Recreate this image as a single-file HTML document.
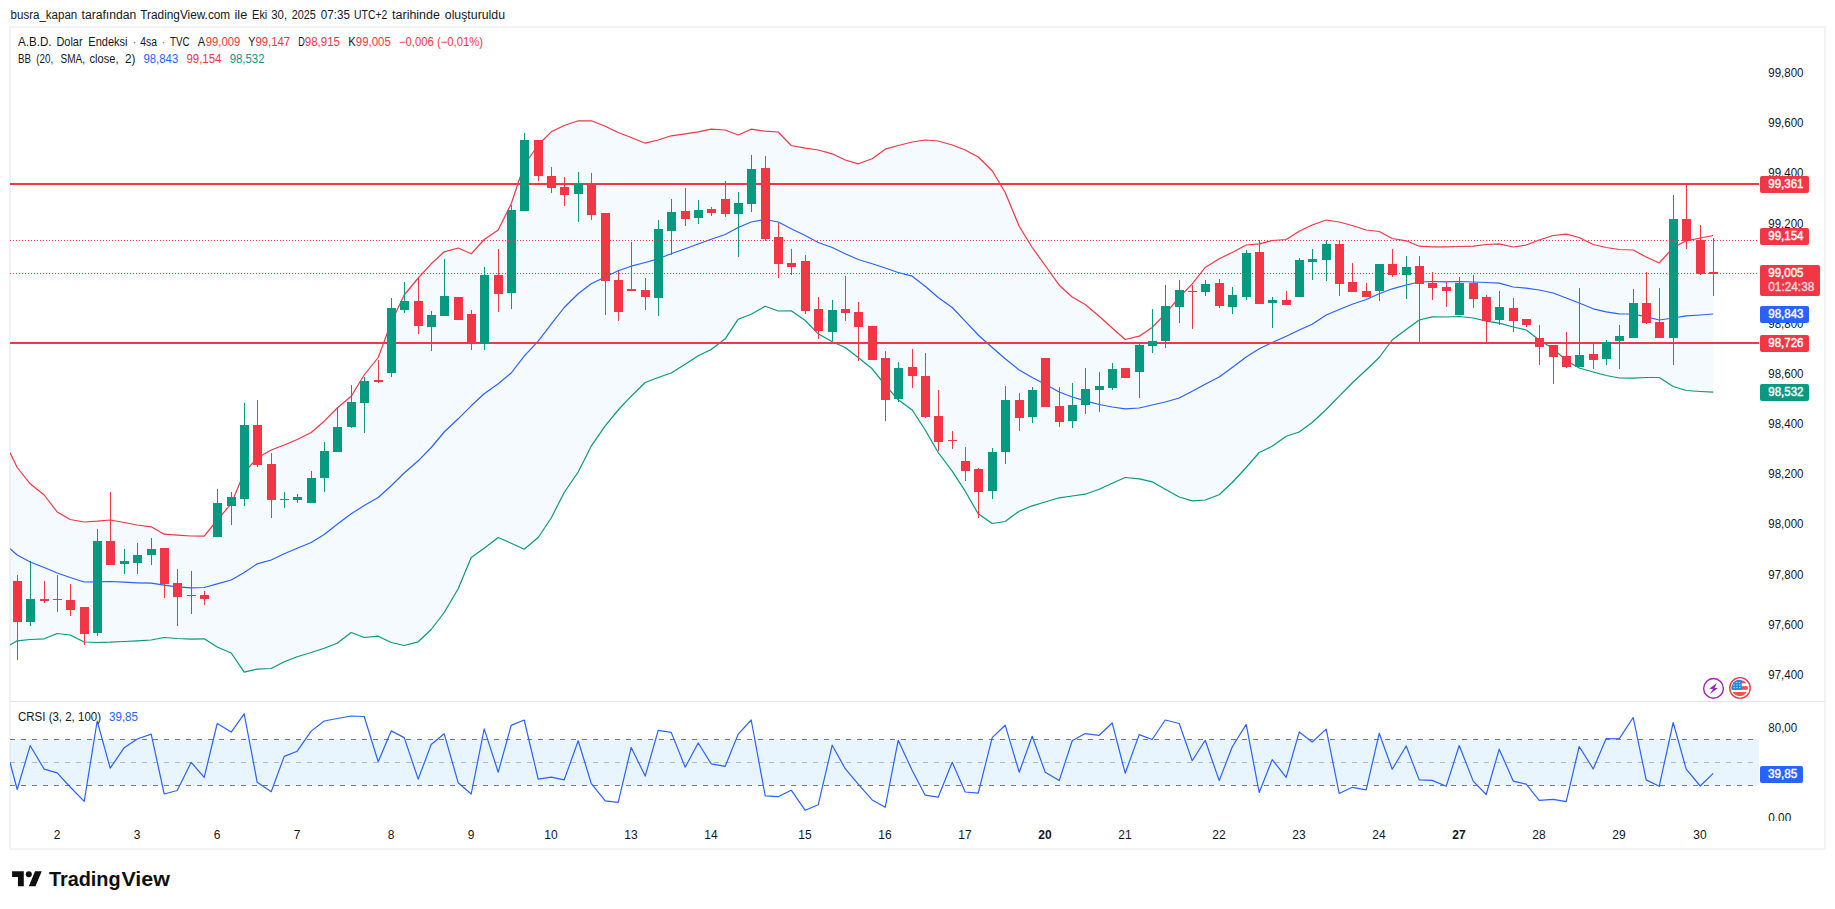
<!DOCTYPE html>
<html lang="tr"><head><meta charset="utf-8"><title>TradingView</title>
<style>html,body{margin:0;padding:0;background:#fff}body{width:1835px;height:909px;overflow:hidden;position:relative;font-family:"Liberation Sans",sans-serif}svg{position:absolute;left:0;top:0;display:block}text{font-family:"Liberation Sans",sans-serif;font-size:12px;fill:#131722}.w{fill:#fff;stroke:#fff;stroke-width:.4px}.b{font-weight:700}</style></head><body>
<svg width="1835" height="909" viewBox="0 0 1835 909">
<defs>
<clipPath id="cm"><rect x="10" y="28" width="1749" height="673"/></clipPath>
<clipPath id="cc"><rect x="10" y="702" width="1749" height="119"/></clipPath>
<clipPath id="ca"><rect x="1759" y="702" width="66" height="119"/></clipPath>
<clipPath id="cf"><circle cx="1739.7" cy="688" r="8.2"/></clipPath>
</defs>
<rect x="10" y="27" width="1815" height="822" fill="#fff" stroke="#f3f3f3" stroke-width="2"/>
<text y="19"><tspan x="10.6" textLength="66.6" lengthAdjust="spacingAndGlyphs">busra_kapan</tspan> <tspan x="81.5" textLength="54.8" lengthAdjust="spacingAndGlyphs">tarafından</tspan> <tspan x="140.3" textLength="89.9" lengthAdjust="spacingAndGlyphs">TradingView.com</tspan> <tspan x="234.5" textLength="12.7" lengthAdjust="spacingAndGlyphs">ile</tspan> <tspan x="252.1" textLength="15.2" lengthAdjust="spacingAndGlyphs">Eki</tspan> <tspan x="271.3" textLength="15.8" lengthAdjust="spacingAndGlyphs">30,</tspan> <tspan x="291.8" textLength="24.1" lengthAdjust="spacingAndGlyphs">2025</tspan> <tspan x="320.8" textLength="29.1" lengthAdjust="spacingAndGlyphs">07:35</tspan> <tspan x="354.1" textLength="33.3" lengthAdjust="spacingAndGlyphs">UTC+2</tspan> <tspan x="392.1" textLength="47.8" lengthAdjust="spacingAndGlyphs">tarihinde</tspan> <tspan x="444.8" textLength="60.2" lengthAdjust="spacingAndGlyphs">oluşturuldu</tspan></text>
<g clip-path="url(#cm)">
<polygon points="10.0,452.5 17.2,467.5 30.2,483.8 44.2,495.0 57.2,512.0 70.2,519.5 84.2,522.0 97.2,521.2 110.2,520.0 124.2,522.5 137.2,525.0 151.2,526.8 164.2,534.2 177.2,535.2 191.2,536.0 204.2,536.2 217.2,520.0 231.2,503.8 244.2,472.5 257.2,458.0 271.2,450.0 284.2,445.0 297.2,439.5 311.2,432.5 324.2,421.2 337.2,408.0 351.2,396.2 364.2,375.0 378.2,357.5 391.2,322.5 404.2,295.0 418.2,278.0 431.2,263.8 444.2,251.8 458.2,248.0 471.2,253.8 484.2,239.5 498.2,230.0 511.2,203.8 524.2,165.0 538.2,145.0 551.2,131.8 564.2,125.5 578.2,120.8 591.2,120.8 605.2,126.2 618.2,132.5 631.2,137.5 645.2,143.2 658.2,140.0 671.2,135.8 685.2,133.8 698.2,131.8 711.2,129.2 725.2,130.0 738.2,135.0 751.2,129.2 765.2,131.2 778.2,132.0 791.2,145.5 805.2,148.2 818.2,150.0 832.2,153.8 845.2,160.0 858.2,163.8 872.2,158.8 885.2,149.2 898.2,145.5 912.2,142.0 925.2,140.0 938.2,141.0 952.2,145.0 965.2,150.0 978.2,157.0 992.2,170.8 1005.2,192.5 1019.2,226.2 1032.2,247.5 1045.2,265.5 1059.2,285.2 1072.2,297.0 1085.2,304.5 1099.2,316.2 1112.2,328.0 1125.2,339.5 1139.2,336.2 1152.2,327.5 1165.2,313.8 1179.2,297.5 1192.2,283.8 1205.2,267.5 1219.2,258.8 1232.2,252.5 1246.2,245.0 1259.2,243.8 1272.2,240.5 1286.2,239.5 1299.2,231.2 1312.2,225.0 1326.2,220.0 1339.2,222.0 1352.2,225.5 1366.2,230.0 1379.2,231.5 1392.2,238.5 1406.2,240.8 1419.2,246.2 1432.2,246.8 1446.2,246.8 1459.2,246.5 1473.2,246.2 1486.2,244.5 1499.2,243.8 1513.2,247.0 1526.2,245.0 1539.2,240.0 1553.2,235.5 1566.2,234.2 1579.2,237.5 1593.2,244.5 1606.2,247.5 1619.2,249.5 1633.2,250.0 1646.2,257.0 1659.2,263.0 1673.2,247.5 1686.2,240.8 1700.2,238.0 1713.2,235.5 1713.2,392.2 1700.2,391.5 1686.2,390.5 1673.2,386.5 1659.2,377.5 1646.2,377.5 1633.2,378.2 1619.2,378.0 1606.2,375.5 1593.2,372.0 1579.2,368.0 1566.2,360.5 1553.2,348.8 1539.2,340.0 1526.2,330.0 1513.2,327.0 1499.2,323.2 1486.2,321.2 1473.2,318.0 1459.2,316.5 1446.2,317.0 1432.2,316.8 1419.2,320.0 1406.2,329.5 1392.2,340.0 1379.2,357.5 1366.2,370.0 1352.2,383.0 1339.2,396.2 1326.2,409.5 1312.2,422.5 1299.2,432.0 1286.2,436.2 1272.2,446.2 1259.2,452.5 1246.2,467.5 1232.2,482.5 1219.2,494.8 1205.2,500.0 1192.2,500.8 1179.2,497.0 1165.2,489.2 1152.2,481.8 1139.2,478.8 1125.2,477.5 1112.2,483.2 1099.2,489.2 1085.2,494.2 1072.2,496.0 1059.2,497.8 1045.2,502.0 1032.2,505.8 1019.2,511.2 1005.2,521.5 992.2,523.5 978.2,513.8 965.2,491.2 952.2,471.2 938.2,452.5 925.2,430.0 912.2,410.0 898.2,399.8 885.2,385.0 872.2,368.8 858.2,357.5 845.2,347.5 832.2,341.8 818.2,333.8 805.2,320.5 791.2,310.8 778.2,311.0 765.2,306.2 751.2,314.2 738.2,319.2 725.2,338.8 711.2,349.5 698.2,355.8 685.2,364.2 671.2,373.0 658.2,377.5 645.2,382.5 631.2,396.2 618.2,410.0 605.2,425.8 591.2,446.2 578.2,472.0 564.2,492.5 551.2,518.0 538.2,537.5 524.2,549.2 511.2,543.2 498.2,537.5 484.2,548.2 471.2,557.5 458.2,588.8 444.2,612.5 431.2,629.5 418.2,641.8 404.2,645.5 391.2,642.5 378.2,636.2 364.2,637.5 351.2,632.5 337.2,643.2 324.2,648.2 311.2,652.5 297.2,656.8 284.2,661.8 271.2,668.5 257.2,669.2 244.2,672.2 231.2,653.0 217.2,647.0 204.2,638.8 191.2,639.2 177.2,638.5 164.2,637.5 151.2,640.0 137.2,640.8 124.2,641.5 110.2,642.2 97.2,642.5 84.2,642.0 70.2,635.0 57.2,633.5 44.2,638.8 30.2,639.5 17.2,640.8 10.0,645.0" fill="#2196f3" fill-opacity="0.05"/>
<polyline points="10.0,452.5 17.2,467.5 30.2,483.8 44.2,495.0 57.2,512.0 70.2,519.5 84.2,522.0 97.2,521.2 110.2,520.0 124.2,522.5 137.2,525.0 151.2,526.8 164.2,534.2 177.2,535.2 191.2,536.0 204.2,536.2 217.2,520.0 231.2,503.8 244.2,472.5 257.2,458.0 271.2,450.0 284.2,445.0 297.2,439.5 311.2,432.5 324.2,421.2 337.2,408.0 351.2,396.2 364.2,375.0 378.2,357.5 391.2,322.5 404.2,295.0 418.2,278.0 431.2,263.8 444.2,251.8 458.2,248.0 471.2,253.8 484.2,239.5 498.2,230.0 511.2,203.8 524.2,165.0 538.2,145.0 551.2,131.8 564.2,125.5 578.2,120.8 591.2,120.8 605.2,126.2 618.2,132.5 631.2,137.5 645.2,143.2 658.2,140.0 671.2,135.8 685.2,133.8 698.2,131.8 711.2,129.2 725.2,130.0 738.2,135.0 751.2,129.2 765.2,131.2 778.2,132.0 791.2,145.5 805.2,148.2 818.2,150.0 832.2,153.8 845.2,160.0 858.2,163.8 872.2,158.8 885.2,149.2 898.2,145.5 912.2,142.0 925.2,140.0 938.2,141.0 952.2,145.0 965.2,150.0 978.2,157.0 992.2,170.8 1005.2,192.5 1019.2,226.2 1032.2,247.5 1045.2,265.5 1059.2,285.2 1072.2,297.0 1085.2,304.5 1099.2,316.2 1112.2,328.0 1125.2,339.5 1139.2,336.2 1152.2,327.5 1165.2,313.8 1179.2,297.5 1192.2,283.8 1205.2,267.5 1219.2,258.8 1232.2,252.5 1246.2,245.0 1259.2,243.8 1272.2,240.5 1286.2,239.5 1299.2,231.2 1312.2,225.0 1326.2,220.0 1339.2,222.0 1352.2,225.5 1366.2,230.0 1379.2,231.5 1392.2,238.5 1406.2,240.8 1419.2,246.2 1432.2,246.8 1446.2,246.8 1459.2,246.5 1473.2,246.2 1486.2,244.5 1499.2,243.8 1513.2,247.0 1526.2,245.0 1539.2,240.0 1553.2,235.5 1566.2,234.2 1579.2,237.5 1593.2,244.5 1606.2,247.5 1619.2,249.5 1633.2,250.0 1646.2,257.0 1659.2,263.0 1673.2,247.5 1686.2,240.8 1700.2,238.0 1713.2,235.5" fill="none" stroke="#f23645" stroke-width="1.2" stroke-linejoin="round"/>
<polyline points="10.0,645.0 17.2,640.8 30.2,639.5 44.2,638.8 57.2,633.5 70.2,635.0 84.2,642.0 97.2,642.5 110.2,642.2 124.2,641.5 137.2,640.8 151.2,640.0 164.2,637.5 177.2,638.5 191.2,639.2 204.2,638.8 217.2,647.0 231.2,653.0 244.2,672.2 257.2,669.2 271.2,668.5 284.2,661.8 297.2,656.8 311.2,652.5 324.2,648.2 337.2,643.2 351.2,632.5 364.2,637.5 378.2,636.2 391.2,642.5 404.2,645.5 418.2,641.8 431.2,629.5 444.2,612.5 458.2,588.8 471.2,557.5 484.2,548.2 498.2,537.5 511.2,543.2 524.2,549.2 538.2,537.5 551.2,518.0 564.2,492.5 578.2,472.0 591.2,446.2 605.2,425.8 618.2,410.0 631.2,396.2 645.2,382.5 658.2,377.5 671.2,373.0 685.2,364.2 698.2,355.8 711.2,349.5 725.2,338.8 738.2,319.2 751.2,314.2 765.2,306.2 778.2,311.0 791.2,310.8 805.2,320.5 818.2,333.8 832.2,341.8 845.2,347.5 858.2,357.5 872.2,368.8 885.2,385.0 898.2,399.8 912.2,410.0 925.2,430.0 938.2,452.5 952.2,471.2 965.2,491.2 978.2,513.8 992.2,523.5 1005.2,521.5 1019.2,511.2 1032.2,505.8 1045.2,502.0 1059.2,497.8 1072.2,496.0 1085.2,494.2 1099.2,489.2 1112.2,483.2 1125.2,477.5 1139.2,478.8 1152.2,481.8 1165.2,489.2 1179.2,497.0 1192.2,500.8 1205.2,500.0 1219.2,494.8 1232.2,482.5 1246.2,467.5 1259.2,452.5 1272.2,446.2 1286.2,436.2 1299.2,432.0 1312.2,422.5 1326.2,409.5 1339.2,396.2 1352.2,383.0 1366.2,370.0 1379.2,357.5 1392.2,340.0 1406.2,329.5 1419.2,320.0 1432.2,316.8 1446.2,317.0 1459.2,316.5 1473.2,318.0 1486.2,321.2 1499.2,323.2 1513.2,327.0 1526.2,330.0 1539.2,340.0 1553.2,348.8 1566.2,360.5 1579.2,368.0 1593.2,372.0 1606.2,375.5 1619.2,378.0 1633.2,378.2 1646.2,377.5 1659.2,377.5 1673.2,386.5 1686.2,390.5 1700.2,391.5 1713.2,392.2" fill="none" stroke="#089981" stroke-width="1.2" stroke-linejoin="round"/>
<polyline points="10.0,548.8 17.2,555.0 30.2,562.0 44.2,567.5 57.2,573.0 70.2,577.5 84.2,582.0 97.2,581.8 110.2,581.5 124.2,582.2 137.2,582.8 151.2,583.2 164.2,585.2 177.2,586.8 191.2,587.8 204.2,587.5 217.2,583.8 231.2,580.0 244.2,572.5 257.2,563.8 271.2,560.0 284.2,553.8 297.2,548.2 311.2,542.5 324.2,534.5 337.2,524.2 351.2,513.8 364.2,505.5 378.2,497.5 391.2,485.8 404.2,473.0 418.2,460.8 431.2,447.5 444.2,432.0 458.2,418.8 471.2,405.8 484.2,393.8 498.2,383.8 511.2,373.0 524.2,356.2 538.2,341.2 551.2,324.2 564.2,307.5 578.2,293.8 591.2,283.8 605.2,277.0 618.2,270.8 631.2,266.2 645.2,262.5 658.2,258.8 671.2,253.8 685.2,248.8 698.2,244.0 711.2,239.2 725.2,234.5 738.2,227.5 751.2,222.0 765.2,219.5 778.2,222.0 791.2,228.8 805.2,235.5 818.2,242.5 832.2,247.5 845.2,253.8 858.2,259.5 872.2,263.8 885.2,268.0 898.2,272.5 912.2,276.2 925.2,286.2 938.2,297.5 952.2,307.5 965.2,321.2 978.2,335.0 992.2,347.5 1005.2,358.8 1019.2,370.0 1032.2,377.5 1045.2,384.2 1059.2,392.0 1072.2,397.0 1085.2,400.8 1099.2,404.5 1112.2,407.0 1125.2,408.8 1139.2,408.0 1152.2,405.0 1165.2,402.0 1179.2,398.0 1192.2,391.2 1205.2,384.2 1219.2,377.0 1232.2,367.5 1246.2,357.0 1259.2,348.8 1272.2,342.5 1286.2,336.2 1299.2,330.0 1312.2,324.2 1326.2,315.0 1339.2,309.5 1352.2,304.2 1366.2,299.5 1379.2,293.8 1392.2,288.8 1406.2,285.0 1419.2,282.0 1432.2,281.5 1446.2,281.8 1459.2,281.5 1473.2,282.0 1486.2,282.5 1499.2,283.2 1513.2,287.0 1526.2,288.2 1539.2,290.0 1553.2,293.0 1566.2,298.0 1579.2,303.0 1593.2,308.8 1606.2,311.8 1619.2,313.8 1633.2,314.0 1646.2,316.8 1659.2,320.0 1673.2,318.0 1686.2,315.8 1700.2,315.0 1713.2,314.0" fill="none" stroke="#2962ff" stroke-width="1.2" stroke-linejoin="round"/>
<rect x="10" y="183" width="1749" height="2" fill="#f23645"/>
<rect x="10" y="342" width="1749" height="2" fill="#f23645"/>
<path d="M1673 195h1V365h-1zM1669 219h9V338h-9zM1633 289h1V338h-1zM1629 303h9V338h-9zM1619 325h1V369h-1zM1615 336h9V341h-9zM1606 340h1V365h-1zM1602 342h9V359h-9zM1579 288h1V367h-1zM1575 355h9V367h-9zM1499 291h1V325h-1zM1495 307h9V320h-9zM1459 277h1V315h-1zM1455 283h9V315h-9zM1406 256h1V299h-1zM1402 267h9V275h-9zM1379 264h1V301h-1zM1375 264h9V291h-9zM1326 240h1V281h-1zM1322 244h9V260h-9zM1312 249h1V280h-1zM1308 259h9V262h-9zM1299 258h1V297h-1zM1295 260h9V297h-9zM1272 297h1V328h-1zM1268 300h9V303h-9zM1246 250h1V300h-1zM1242 253h9V297h-9zM1232 287h1V314h-1zM1228 295h9V307h-9zM1205 280h1V296h-1zM1201 284h9V292h-9zM1179 280h1V323h-1zM1175 290h9V307h-9zM1165 285h1V348h-1zM1161 306h9V341h-9zM1152 309h1V353h-1zM1148 341h9V346h-9zM1139 343h1V398h-1zM1135 345h9V372h-9zM1112 363h1V390h-1zM1108 369h9V388h-9zM1099 372h1V412h-1zM1095 386h9V390h-9zM1085 368h1V414h-1zM1081 389h9V405h-9zM1072 383h1V428h-1zM1068 405h9V421h-9zM1032 387h1V423h-1zM1028 390h9V417h-9zM1005 386h1V464h-1zM1001 400h9V452h-9zM992 448h1V499h-1zM988 452h9V491h-9zM898 362h1V402h-1zM894 368h9V399h-9zM832 300h1V341h-1zM828 310h9V332h-9zM751 155h1V212h-1zM747 169h9V204h-9zM738 192h1V257h-1zM734 203h9V214h-9zM698 200h1V224h-1zM694 210h9V218h-9zM671 199h1V255h-1zM667 212h9V231h-9zM658 220h1V316h-1zM654 229h9V298h-9zM578 172h1V222h-1zM574 184h9V194h-9zM524 133h1V211h-1zM520 140h9V211h-9zM511 205h1V309h-1zM507 210h9V293h-9zM484 267h1V350h-1zM480 275h9V344h-9zM444 259h1V316h-1zM440 296h9V316h-9zM431 311h1V351h-1zM427 315h9V327h-9zM404 282h1V313h-1zM400 301h9V310h-9zM391 298h1V377h-1zM387 308h9V373h-9zM364 377h1V433h-1zM360 381h9V403h-9zM351 385h1V428h-1zM347 402h9V427h-9zM337 407h1V452h-1zM333 427h9V452h-9zM324 442h1V492h-1zM320 451h9V478h-9zM311 471h1V503h-1zM307 478h9V503h-9zM297 494h1V503h-1zM293 497h9V500h-9zM284 492h1V508h-1zM280 499h9V500h-9zM244 403h1V506h-1zM240 425h9V499h-9zM231 492h1V525h-1zM227 497h9V506h-9zM217 489h1V537h-1zM213 503h9V537h-9zM191 571h1V614h-1zM187 595h9V596h-9zM151 538h1V565h-1zM147 549h9V555h-9zM137 543h1V574h-1zM133 555h9V563h-9zM124 549h1V574h-1zM120 561h9V564h-9zM97 529h1V636h-1zM93 541h9V633h-9zM30 561h1V626h-1zM26 599h9V622h-9z" fill="#089981"/>
<path d="M1713 238h1V296h-1zM1709 272h9V274h-9zM1700 225h1V275h-1zM1696 240h9V274h-9zM1686 184h1V249h-1zM1682 219h9V241h-9zM1659 288h1V338h-1zM1655 322h9V338h-9zM1646 272h1V324h-1zM1642 303h9V323h-9zM1593 344h1V369h-1zM1589 354h9V360h-9zM1566 332h1V368h-1zM1562 356h9V367h-9zM1553 345h1V384h-1zM1549 345h9V357h-9zM1539 325h1V365h-1zM1535 338h9V347h-9zM1526 319h1V327h-1zM1522 319h9V325h-9zM1513 298h1V332h-1zM1509 308h9V321h-9zM1486 295h1V343h-1zM1482 297h9V321h-9zM1473 275h1V308h-1zM1469 283h9V299h-9zM1446 282h1V307h-1zM1442 287h9V291h-9zM1432 272h1V300h-1zM1428 283h9V288h-9zM1419 256h1V343h-1zM1415 266h9V284h-9zM1392 249h1V277h-1zM1388 264h9V275h-9zM1366 283h1V297h-1zM1362 291h9V297h-9zM1352 263h1V292h-1zM1348 282h9V292h-9zM1339 240h1V296h-1zM1335 244h9V284h-9zM1286 291h1V305h-1zM1282 300h9V305h-9zM1259 240h1V304h-1zM1255 252h9V304h-9zM1219 279h1V308h-1zM1215 283h9V306h-9zM1192 285h1V329h-1zM1188 291h9V292h-9zM1125 368h1V378h-1zM1121 368h9V378h-9zM1059 387h1V427h-1zM1055 406h9V422h-9zM1045 358h1V407h-1zM1041 358h9V407h-9zM1019 393h1V431h-1zM1015 400h9V418h-9zM978 468h1V518h-1zM974 469h9V492h-9zM965 447h1V481h-1zM961 461h9V471h-9zM952 431h1V449h-1zM948 440h9V441h-9zM938 390h1V451h-1zM934 416h9V442h-9zM925 353h1V418h-1zM921 376h9V417h-9zM912 349h1V388h-1zM908 367h9V376h-9zM885 351h1V421h-1zM881 358h9V400h-9zM872 326h1V360h-1zM868 326h9V360h-9zM858 302h1V361h-1zM854 312h9V327h-9zM845 276h1V321h-1zM841 309h9V313h-9zM818 297h1V339h-1zM814 309h9V331h-9zM805 255h1V314h-1zM801 261h9V311h-9zM791 249h1V275h-1zM787 263h9V267h-9zM778 223h1V278h-1zM774 237h9V264h-9zM765 156h1V241h-1zM761 168h9V239h-9zM725 181h1V217h-1zM721 199h9V214h-9zM711 207h1V216h-1zM707 209h9V213h-9zM685 188h1V226h-1zM681 211h9V219h-9zM645 278h1V310h-1zM641 290h9V297h-9zM631 242h1V291h-1zM627 289h9V291h-9zM618 271h1V321h-1zM614 280h9V312h-9zM605 213h1V315h-1zM601 213h9V281h-9zM591 173h1V220h-1zM587 184h9V215h-9zM564 177h1V206h-1zM560 187h9V195h-9zM551 167h1V193h-1zM547 176h9V188h-9zM538 140h1V181h-1zM534 140h9V176h-9zM498 249h1V312h-1zM494 275h9V294h-9zM471 310h1V350h-1zM467 314h9V344h-9zM458 297h1V320h-1zM454 297h9V320h-9zM418 278h1V334h-1zM414 301h9V326h-9zM378 360h1V383h-1zM374 380h9V382h-9zM271 453h1V518h-1zM267 464h9V500h-9zM257 400h1V467h-1zM253 425h9V465h-9zM204 591h1V605h-1zM200 595h9V599h-9zM177 569h1V626h-1zM173 583h9V597h-9zM164 548h1V598h-1zM160 548h9V584h-9zM110 492h1V565h-1zM106 541h9V565h-9zM84 607h1V645h-1zM80 607h9V634h-9zM70 584h1V616h-1zM66 600h9V610h-9zM57 575h1V612h-1zM53 599h9V600h-9zM44 581h1V603h-1zM40 599h9V601h-9zM17 575h1V660h-1zM13 581h9V622h-9z" fill="#f23645"/>
<line x1="10" y1="240.5" x2="1757" y2="240.5" stroke="#f23645" stroke-width="1" stroke-dasharray="1 2"/>
<line x1="10" y1="273.5" x2="1757" y2="273.5" stroke="#f23645" stroke-width="1" stroke-dasharray="1 2"/>
</g>
<text y="46"><tspan x="18" textLength="33.5" lengthAdjust="spacingAndGlyphs">A.B.D.</tspan> <tspan x="56.4" textLength="26.2" lengthAdjust="spacingAndGlyphs">Dolar</tspan> <tspan x="88.3" textLength="39.2" lengthAdjust="spacingAndGlyphs">Endeksi</tspan> <tspan x="133.2" textLength="2.5" lengthAdjust="spacingAndGlyphs">·</tspan> <tspan x="140.3" textLength="16.7" lengthAdjust="spacingAndGlyphs">4sa</tspan> <tspan x="162.3" textLength="2.3" lengthAdjust="spacingAndGlyphs">·</tspan> <tspan x="170" textLength="19.6" lengthAdjust="spacingAndGlyphs">TVC</tspan>  <tspan x="197.8" textLength="7.4" lengthAdjust="spacingAndGlyphs">A</tspan><tspan x="205.7" textLength="34.6" lengthAdjust="spacingAndGlyphs" style="fill:#f23645">99,009</tspan>  <tspan x="248.2" textLength="7.2" lengthAdjust="spacingAndGlyphs">Y</tspan><tspan x="255.4" textLength="34.8" lengthAdjust="spacingAndGlyphs" style="fill:#f23645">99,147</tspan>  <tspan x="298.2" textLength="6.6" lengthAdjust="spacingAndGlyphs">D</tspan><tspan x="304.8" textLength="35.2" lengthAdjust="spacingAndGlyphs" style="fill:#f23645">98,915</tspan>  <tspan x="348.3" textLength="7.5" lengthAdjust="spacingAndGlyphs">K</tspan><tspan x="355.8" textLength="35.0" lengthAdjust="spacingAndGlyphs" style="fill:#f23645">99,005</tspan>  <tspan x="399" textLength="84.0" lengthAdjust="spacingAndGlyphs" style="fill:#f23645">−0,006 (−0,01%)</tspan></text>
<text y="63"><tspan x="18" textLength="13.0" lengthAdjust="spacingAndGlyphs">BB</tspan> <tspan x="36.3" textLength="16.8" lengthAdjust="spacingAndGlyphs">(20,</tspan> <tspan x="60.5" textLength="24.5" lengthAdjust="spacingAndGlyphs">SMA,</tspan> <tspan x="89.6" textLength="28.9" lengthAdjust="spacingAndGlyphs">close,</tspan> <tspan x="125" textLength="10.4" lengthAdjust="spacingAndGlyphs">2)</tspan>  <tspan x="143.5" textLength="34.7" lengthAdjust="spacingAndGlyphs" style="fill:#2962ff">98,843</tspan>  <tspan x="186.4" textLength="35.1" lengthAdjust="spacingAndGlyphs" style="fill:#f23645">99,154</tspan>  <tspan x="229.7" textLength="34.8" lengthAdjust="spacingAndGlyphs" style="fill:#089981">98,532</tspan></text>
<text x="1768.3" y="77.1" textLength="35.2" lengthAdjust="spacingAndGlyphs">99,800</text>
<text x="1768.3" y="127.2" textLength="35.2" lengthAdjust="spacingAndGlyphs">99,600</text>
<text x="1768.3" y="177.4" textLength="35.2" lengthAdjust="spacingAndGlyphs">99,400</text>
<text x="1768.3" y="227.5" textLength="35.2" lengthAdjust="spacingAndGlyphs">99,200</text>
<text x="1768.3" y="277.7" textLength="35.2" lengthAdjust="spacingAndGlyphs">99,000</text>
<text x="1768.3" y="327.8" textLength="35.2" lengthAdjust="spacingAndGlyphs">98,800</text>
<text x="1768.3" y="377.9" textLength="35.2" lengthAdjust="spacingAndGlyphs">98,600</text>
<text x="1768.3" y="428.1" textLength="35.2" lengthAdjust="spacingAndGlyphs">98,400</text>
<text x="1768.3" y="478.2" textLength="35.2" lengthAdjust="spacingAndGlyphs">98,200</text>
<text x="1768.3" y="528.4" textLength="35.2" lengthAdjust="spacingAndGlyphs">98,000</text>
<text x="1768.3" y="578.5" textLength="35.2" lengthAdjust="spacingAndGlyphs">97,800</text>
<text x="1768.3" y="628.6" textLength="35.2" lengthAdjust="spacingAndGlyphs">97,600</text>
<text x="1768.3" y="678.8" textLength="35.2" lengthAdjust="spacingAndGlyphs">97,400</text>
<rect x="1760" y="176" width="49" height="17" rx="2" fill="#f23645"/>
<text x="1768.3" y="188.2" textLength="35.2" lengthAdjust="spacingAndGlyphs" class="w">99,361</text>
<rect x="1760" y="228" width="49" height="17" rx="2" fill="#f23645"/>
<text x="1768.3" y="240.2" textLength="35.2" lengthAdjust="spacingAndGlyphs" class="w">99,154</text>
<rect x="1760" y="265" width="60" height="31" rx="2" fill="#f23645"/>
<text x="1768.3" y="276.5" textLength="35.2" lengthAdjust="spacingAndGlyphs" class="w">99,005</text>
<text x="1768.3" y="291" textLength="46" lengthAdjust="spacingAndGlyphs" style="fill:#fff;stroke:#fff;stroke-width:.35px;opacity:.8">01:24:38</text>
<rect x="1760" y="306" width="49" height="17" rx="2" fill="#2962ff"/>
<text x="1768.3" y="318.2" textLength="35.2" lengthAdjust="spacingAndGlyphs" class="w">98,843</text>
<rect x="1760" y="335" width="49" height="17" rx="2" fill="#f23645"/>
<text x="1768.3" y="347.2" textLength="35.2" lengthAdjust="spacingAndGlyphs" class="w">98,726</text>
<rect x="1760" y="384" width="49" height="17" rx="2" fill="#089981"/>
<text x="1768.3" y="396.2" textLength="35.2" lengthAdjust="spacingAndGlyphs" class="w">98,532</text>
<circle cx="1713.5" cy="688.4" r="9.85" fill="#fff" stroke="#9c27b0" stroke-width="1.4"/>
<path d="M1717 683l-7.9 5.75 3.9.25-2.95 4.85 7.8-5.6-3.25-.47z" fill="#9c27b0"/>
<circle cx="1740" cy="687.9" r="10.25" fill="#fff" stroke="#f23645" stroke-width="1.4"/>
<g clip-path="url(#cf)"><rect x="1731" y="679" width="18" height="18" fill="#fff"/>
<rect x="1731" y="680.5" width="18" height="2.8" fill="#ef5350"/>
<rect x="1731" y="686.1" width="18" height="3.7" fill="#ef5350"/>
<rect x="1731" y="692" width="18" height="4.2" fill="#ef5350"/>
<rect x="1731" y="679" width="10.7" height="10.8" fill="#1e88e5"/>
<rect x="1735.8" y="682" width="1.6" height="0.9" fill="#fff" fill-opacity=".75"/>
<rect x="1738.6" y="682" width="1.6" height="0.9" fill="#fff" fill-opacity=".75"/>
<rect x="1733.4" y="684.6" width="1.6" height="0.9" fill="#fff" fill-opacity=".75"/>
<rect x="1736.2" y="684.6" width="1.6" height="0.9" fill="#fff" fill-opacity=".75"/>
<rect x="1739" y="684.6" width="1.6" height="0.9" fill="#fff" fill-opacity=".75"/>
<rect x="1733.4" y="687.2" width="1.6" height="0.9" fill="#fff" fill-opacity=".75"/>
<rect x="1736.2" y="687.2" width="1.6" height="0.9" fill="#fff" fill-opacity=".75"/>
<rect x="1739" y="687.2" width="1.6" height="0.9" fill="#fff" fill-opacity=".75"/>
</g>
<rect x="10" y="701" width="1815" height="1" fill="#e0e3eb"/>
<g clip-path="url(#cc)">
<rect x="10" y="739" width="1749" height="46.5" fill="#2196f3" fill-opacity="0.1"/>
<line x1="10" y1="739.5" x2="1759" y2="739.5" stroke="#787b86" stroke-dasharray="5 6"/>
<line x1="10" y1="785.5" x2="1759" y2="785.5" stroke="#787b86" stroke-dasharray="5 6"/>
<line x1="10" y1="762.5" x2="1759" y2="762.5" stroke="#787b86" stroke-opacity="0.5" stroke-dasharray="5 6"/>
<polyline points="10.0,762.3 17.2,789.5 30.2,745.7 44.2,769.2 57.2,772.9 70.2,787.0 84.2,801.4 97.2,721.0 110.2,768.2 124.2,747.7 137.2,739.0 151.2,734.1 164.2,794.0 177.2,790.5 191.2,762.3 204.2,777.4 217.2,723.5 231.2,732.1 244.2,713.8 257.2,782.3 271.2,791.7 284.2,756.4 297.2,751.2 311.2,731.1 324.2,721.0 337.2,718.5 351.2,716.0 364.2,716.5 378.2,761.8 391.2,730.9 404.2,737.6 418.2,779.1 431.2,744.5 444.2,733.8 458.2,782.8 471.2,794.0 484.2,728.9 498.2,772.2 511.2,725.4 524.2,720.0 538.2,779.1 551.2,777.1 564.2,779.9 578.2,740.8 591.2,783.3 605.2,800.9 618.2,802.4 631.2,747.4 645.2,776.1 658.2,730.4 671.2,732.4 685.2,767.2 698.2,743.0 711.2,763.8 725.2,766.3 738.2,734.1 751.2,720.0 765.2,795.9 778.2,796.7 791.2,790.2 805.2,810.3 818.2,804.8 832.2,745.2 845.2,768.7 858.2,784.1 872.2,799.9 885.2,807.3 898.2,740.3 912.2,770.5 925.2,795.2 938.2,797.2 952.2,762.3 965.2,792.0 978.2,793.2 992.2,737.6 1005.2,725.2 1019.2,772.2 1032.2,736.3 1045.2,772.2 1059.2,780.6 1072.2,740.8 1085.2,733.6 1099.2,735.3 1112.2,723.0 1125.2,773.2 1139.2,734.6 1152.2,739.5 1165.2,720.0 1179.2,723.5 1192.2,760.8 1205.2,740.3 1219.2,780.6 1232.2,747.0 1246.2,724.4 1259.2,792.5 1272.2,759.6 1286.2,777.4 1299.2,732.1 1312.2,742.0 1326.2,729.1 1339.2,793.5 1352.2,787.3 1366.2,789.8 1379.2,733.3 1392.2,769.2 1406.2,746.0 1419.2,779.9 1432.2,780.4 1446.2,786.3 1459.2,745.5 1473.2,781.1 1486.2,794.5 1499.2,749.2 1513.2,781.1 1526.2,784.1 1539.2,800.4 1553.2,799.4 1566.2,801.6 1579.2,746.5 1593.2,769.0 1606.2,738.5 1619.2,738.8 1633.2,717.5 1646.2,779.9 1659.2,786.3 1673.2,722.5 1686.2,769.2 1700.2,786.0 1713.2,773.4" fill="none" stroke="#2962ff" stroke-width="1.2" stroke-linejoin="round"/>
</g>
<text x="18" y="721" textLength="83.0" lengthAdjust="spacingAndGlyphs">CRSI (3, 2, 100)</text>
<text x="109" y="721" textLength="29.0" lengthAdjust="spacingAndGlyphs" fill="#2962ff" style="fill:#2962ff">39,85</text>
<g clip-path="url(#ca)">
<text x="1768.3" y="732" textLength="28.9" lengthAdjust="spacingAndGlyphs">80,00</text>
<text x="1768.3" y="821.8" textLength="22.9" lengthAdjust="spacingAndGlyphs">0,00</text>
</g>
<rect x="1760" y="766" width="43" height="17" rx="2" fill="#2962ff"/>
<text x="1768" y="778.2" textLength="29.3" lengthAdjust="spacingAndGlyphs" class="w">39,85</text>
<text x="57" y="839" text-anchor="middle">2</text>
<text x="137" y="839" text-anchor="middle">3</text>
<text x="217" y="839" text-anchor="middle">6</text>
<text x="297" y="839" text-anchor="middle">7</text>
<text x="391" y="839" text-anchor="middle">8</text>
<text x="471" y="839" text-anchor="middle">9</text>
<text x="551" y="839" text-anchor="middle">10</text>
<text x="631" y="839" text-anchor="middle">13</text>
<text x="711" y="839" text-anchor="middle">14</text>
<text x="805" y="839" text-anchor="middle">15</text>
<text x="885" y="839" text-anchor="middle">16</text>
<text x="965" y="839" text-anchor="middle">17</text>
<text x="1045" y="839" text-anchor="middle" class=b>20</text>
<text x="1125" y="839" text-anchor="middle">21</text>
<text x="1219" y="839" text-anchor="middle">22</text>
<text x="1299" y="839" text-anchor="middle">23</text>
<text x="1379" y="839" text-anchor="middle">24</text>
<text x="1459" y="839" text-anchor="middle" class=b>27</text>
<text x="1539" y="839" text-anchor="middle">28</text>
<text x="1619" y="839" text-anchor="middle">29</text>
<text x="1700" y="839" text-anchor="middle">30</text>
<g transform="translate(12.1,867.9) scale(0.835)" fill="#0f0f0f"><path d="M14 22H7V11H0V4h14v18zM28 22h-8l7.5-18h8L28 22z"/><circle cx="20" cy="7.7" r="3.6"/></g>
<text y="886" style="font-size:20.5px;font-weight:700;fill:#0f0f0f"><tspan x="48.9" textLength="71.7" lengthAdjust="spacingAndGlyphs">Trading</tspan><tspan x="121.4" textLength="48.5" lengthAdjust="spacingAndGlyphs">View</tspan></text>
</svg></body></html>
